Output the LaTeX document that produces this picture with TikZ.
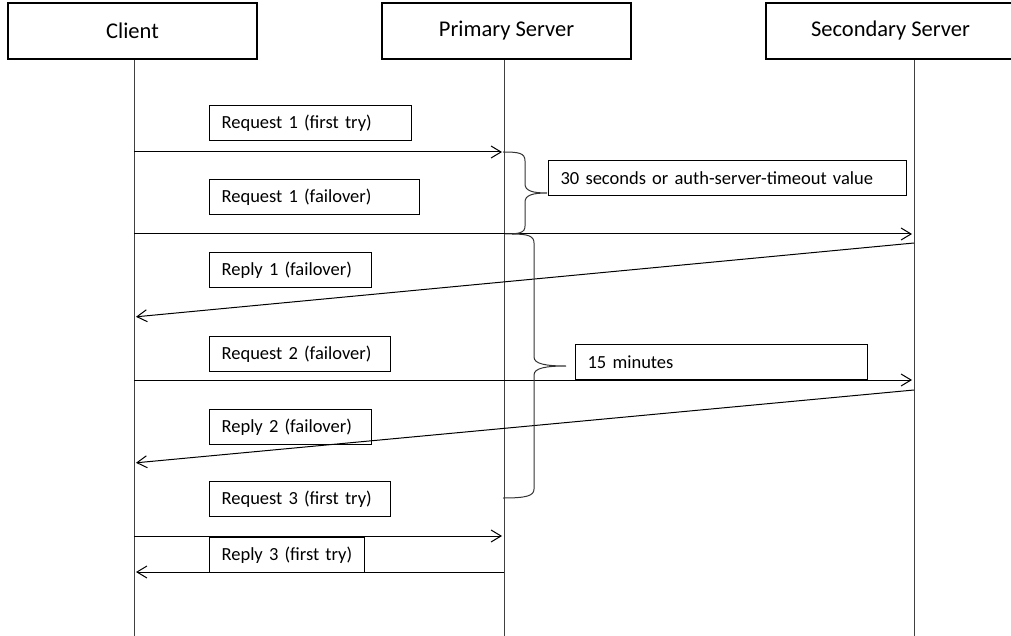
\documentclass[tikz,border=0pt]{standalone}
\usepackage{fontspec}
\setmainfont{Carlito}
\usetikzlibrary{arrows.meta,positioning}

\begin{document}
\begin{tikzpicture}[x=1pt,y=-1pt,
 head/.style={draw,line width=2.6pt,minimum width=249pt,minimum height=56pt,
 font=\fontsize{22.5}{26}\selectfont},
 lbl/.style={draw,line width=1.2pt,anchor=north west,inner xsep=12pt,align=left,
 minimum height=35pt,font=\fontsize{18.5}{22}\selectfont},
 life/.style={draw=black!75,line width=1pt},
 msg/.style={line width=1pt,shorten >=2pt,-{Straight Barb[length=10pt,width=12pt]}},
 brc/.style={line width=1pt,black!80}]
\useasboundingbox (0,0) rectangle (1011,636);
\clip (0,0) rectangle (1011,636);
% participants
\node[head] (client) at (132.5,31) {Client};
\node[head] (prim) at (506.5,31) {Primary Server};
\node[head] (sec) at (890.5,31) {Secondary Server};
\coordinate (lc) at (134,60);
\coordinate (lp) at (504,60);
\coordinate (ls) at (914,60);
\foreach \l in {lc,lp,ls} \draw[life] (\l) -- (\l |- 0,636);
% messages
\foreach \a/\b/\ya/\yb in {lc/lp/152/152,lc/ls/234/234,ls/lc/243/317,lc/ls/380/380,
 ls/lc/390/463,lc/lp/536/536,lp/lc/572/572}
 \draw[msg] (\a |- 0,\ya) -- (\b |- 0,\yb);
\node[lbl,text width=178pt] (rq1a) at (209,105) {Request 1 (first try)};
\node[lbl,text width=186pt] (rq1b) at (209,179) {Request 1 (failover)};
\node[lbl,text width=138pt] (rp1) at (209,252) {Reply 1 (failover)};
\node[lbl,text width=157pt] (rq2) at (209,336) {Request 2 (failover)};
\node[lbl,text width=138pt] (rp2) at (209,409) {Reply 2 (failover)};
\node[lbl,text width=157pt] (rq3) at (209,481) {Request 3 (first try)};
\node[lbl,text width=131pt,fill=white] (rp3) at (209,537) {Reply 3 (first try)};
% timeouts
\node[lbl,text width=334pt] (t30) at (548,160) {30 seconds or auth-server-timeout value};
\node[lbl,text width=268pt] (t15) at (575,344) {15 minutes};
\draw[brc] (503,152) .. controls (519,152) and (525,153) .. (525,161) -- (525,184)
 .. controls (525,191) and (533,193) .. (547,193)
 .. controls (533,193) and (525,195) .. (525,202) -- (525,226)
 .. controls (525,233) and (519,234) .. (505,234);
\draw[brc] (512,234) .. controls (528,234) and (534,236) .. (534,243) -- (534,357)
 .. controls (534,364) and (546,366) .. (566,366)
 .. controls (546,366) and (534,368) .. (534,375) -- (534,489)
 .. controls (534,496) and (526,498) .. (503,498);
\end{tikzpicture}
\end{document}
